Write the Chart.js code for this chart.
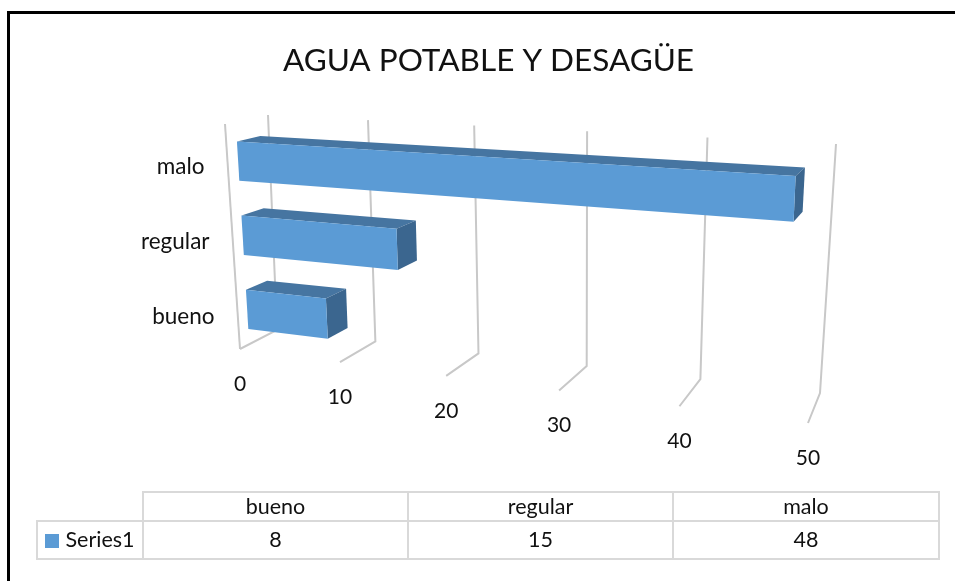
<!DOCTYPE html>
<html>
<head>
<meta charset="utf-8">
<style>
    body { margin: 0; background: #fff; width: 955px; height: 581px; overflow: hidden; position: relative; font-family: Lato, sans-serif; color: #111; }
    #grafica { position: absolute; left: 0; top: 0; }
    #marco { position: absolute; left: 7px; top: 11px; width: 948px; height: 570px; box-sizing: border-box; border-left: 3px solid #000; border-top: 3px solid #000; }
    #tabla { position: absolute; left: 36px; top: 491px; border-collapse: collapse; table-layout: fixed; font-size: 21.5px; }
    #tabla td { border: 2px solid #d9d9d9; text-align: center; padding: 0; line-height: 1; }
    #tabla tr:first-child td { height: 27px; }
    #tabla tr:last-child td { height: 36px; }
    #tabla td.vacio { border-top: none; border-left: none; }
    #tabla .clave { display: inline-block; width: 14px; height: 14px; margin-right: 6px; vertical-align: -1px; }
</style>
</head>
<body>
<canvas id="grafica" width="955" height="581"></canvas>
<div id="marco"></div>
<table id="tabla"></table>
<script src="https://cdn.jsdelivr.net/npm/chart.js@4"></script>
<script>
const categorias = ['bueno', 'regular', 'malo'];
const valores = [8, 15, 48];
const nombreSerie = 'Series1';
const colorSerie = '#5B9BD5';
const titulo = 'AGUA POTABLE Y DESAGÜE';

// esquinas de la caja 3D en pantalla: frente/fondo, abajo/arriba, valor 0/50
const esquinas = {
    fa0: [240, 349], fa1: [808, 423], fr0: [225, 124], fr1: [820, 158],
    ba0: [277, 330], ba1: [820, 393], br0: [268, 115], br1: [836, 144]
};
const fuga = 1.17;
const fugaFondoAbajo = 1.13;
const profBarra = [0.25, 0.8];
const bajadaBarra = 0.01;

const mezcla = (a, b, t) => [a[0] + (b[0] - a[0]) * t, a[1] + (b[1] - a[1]) * t];
const perspectiva = (u, w) => u / (u + w * (1 - u));

// u y h van de 0 a 1 dentro del area del grafico, d es la profundidad
function proyectar(u, h, d) {
    const e = esquinas;
    const p = perspectiva(u, fuga);
    const q = perspectiva(u, fugaFondoAbajo);
    const abajo = mezcla(mezcla(e.fa0, e.fa1, p), mezcla(e.ba0, e.ba1, q), d);
    const arriba = mezcla(mezcla(e.fr0, e.fr1, p), mezcla(e.br0, e.br1, p), d);
    return mezcla(abajo, arriba, h);
}

function cara(ctx, puntos, color) {
    ctx.beginPath();
    puntos.forEach((p, i) => i ? ctx.lineTo(p[0], p[1]) : ctx.moveTo(p[0], p[1]));
    ctx.closePath();
    ctx.fillStyle = color;
    ctx.fill();
}

function linea(ctx, puntos) {
    ctx.beginPath();
    puntos.forEach((p, i) => i ? ctx.lineTo(p[0], p[1]) : ctx.moveTo(p[0], p[1]));
    ctx.stroke();
}

const caja3d = {
    id: 'caja3d',
    beforeDatasetsDraw(chart) {
        const { ctx, chartArea: area, scales: { x, y } } = chart;
        ctx.save();
        ctx.strokeStyle = '#c8c8c8';
        ctx.lineWidth = 2;
        linea(ctx, [proyectar(0, 1, 0), proyectar(0, 0, 0)]);
        x.ticks.forEach(t => {
            const u = (x.getPixelForValue(t.value) - area.left) / area.width;
            linea(ctx, [proyectar(u, 0, 0), proyectar(u, 0, 1), proyectar(u, 1, 1)]);
        });
        ctx.fillStyle = '#111';
        ctx.font = '21px Lato';
        ctx.textAlign = 'center';
        ctx.textBaseline = 'middle';
        x.ticks.forEach(t => {
            const u = (x.getPixelForValue(t.value) - area.left) / area.width;
            const p = proyectar(u, 0, 0);
            ctx.fillText(t.label, p[0], p[1] + 35);
        });
        ctx.font = '22.5px Lato';
        ctx.textAlign = 'right';
        categorias.forEach((c, i) => {
            const h = (area.bottom - y.getPixelForValue(i)) / area.height;
            const p = proyectar(0, h, 0);
            ctx.fillText(c, p[0] - 23, p[1] + 5);
        });
        ctx.restore();
    },
    beforeDatasetDraw(chart, args) {
        const { ctx, chartArea: area } = chart;
        const [d0, d1] = profBarra;
        ctx.save();
        args.meta.data.forEach(barra => {
            const u0 = (barra.base - area.left) / area.width;
            const u1 = (barra.x - area.left) / area.width;
            const h0 = (area.bottom - (barra.y + barra.height / 2)) / area.height - bajadaBarra;
            const h1 = (area.bottom - (barra.y - barra.height / 2)) / area.height - bajadaBarra;
            cara(ctx, [proyectar(u0, h1, d0), proyectar(u1, h1, d0), proyectar(u1, h1, d1), proyectar(u0, h1, d1)], '#4675A1');
            cara(ctx, [proyectar(u1, h0, d0), proyectar(u1, h1, d0), proyectar(u1, h1, d1), proyectar(u1, h0, d1)], '#3B668F');
            cara(ctx, [proyectar(u0, h0, d0), proyectar(u1, h0, d0), proyectar(u1, h1, d0), proyectar(u0, h1, d0)], barra.options.backgroundColor);
        });
        ctx.restore();
        return false; // la barra plana no se dibuja
    }
};

new Chart(document.getElementById('grafica'), {
    type: 'bar',
    data: {
        labels: categorias,
        datasets: [{
            label: nombreSerie,
            data: valores,
            backgroundColor: colorSerie,
            barPercentage: 0.53,
            categoryPercentage: 1
        }]
    },
    options: {
        indexAxis: 'y',
        responsive: false,
        animation: false,
        layout: { padding: { left: 22 } },
        plugins: {
            title: {
                display: true,
                text: titulo,
                color: '#111',
                font: { family: 'Lato', size: 31.5, weight: 'normal' },
                padding: { top: 42, bottom: 10 }
            },
            legend: { display: false },
            tooltip: { enabled: false }
        },
        scales: {
            x: { display: false, min: 0, max: 50, ticks: { stepSize: 10 } },
            y: { display: false, reverse: true }
        }
    },
    plugins: [caja3d]
});

// tabla de datos debajo del grafico
const tabla = document.getElementById('tabla');
const anchos = [105, 263, 263, 264];
const fila1 = tabla.insertRow();
const fila2 = tabla.insertRow();
const vacia = fila1.insertCell();
vacia.className = 'vacio';
vacia.style.width = anchos[0] + 'px';
const cabecera = fila2.insertCell();
const clave = document.createElement('span');
clave.className = 'clave';
clave.style.background = colorSerie;
cabecera.append(clave, nombreSerie);
categorias.forEach((c, i) => {
    const celda = fila1.insertCell();
    celda.textContent = c;
    celda.style.width = anchos[i + 1] + 'px';
    fila2.insertCell().textContent = valores[i];
});
</script>
</body>
</html>
